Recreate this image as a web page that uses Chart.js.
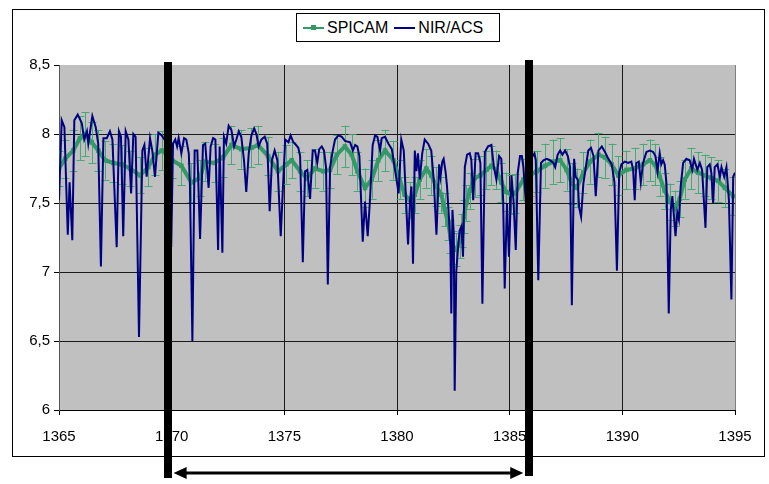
<!DOCTYPE html>
<html>
<head>
<meta charset="utf-8">
<script src="https://cdn.jsdelivr.net/npm/chart.js@4.4.1/dist/chart.umd.min.js"></script>
<style>
html,body{margin:0;padding:0;background:#fff;}
#wrap{position:relative;width:769px;height:484px;}
canvas{position:absolute;left:0;top:0;}
#legend{position:absolute;left:296px;top:13px;width:204px;height:29px;box-sizing:border-box;border:1px solid #000;background:#fff;
 font-family:"Liberation Sans",Arial,sans-serif;font-size:16px;color:#000;display:flex;align-items:center;padding-left:6px;}
.item{display:flex;align-items:center;margin-right:6px;}
.sample{position:relative;width:21px;height:10px;margin-right:3px;}
.sample .ln{position:absolute;left:0;right:0;top:4px;height:2px;}
.sample .mk{position:absolute;left:8px;top:2px;width:5px;height:5px;}
</style>
</head>
<body>
<div id="wrap">
<canvas id="c" width="769" height="484"></canvas>
<div id="legend"></div>
</div>
<script>
// ---- data ----
const seriesNames = ['SPICAM', 'NIR/ACS'];
const xTickValues = [1365, 1370, 1375, 1380, 1385, 1390, 1395];
const xTickLabels = ['1365', '1370', '1375', '1380', '1385', '1390', '1395'];
const yTickValues = [6, 6.5, 7, 7.5, 8, 8.5];
const yTickLabels = ['6', '6,5', '7', '7,5', '8', '8,5'];
const markerYears = [1369.82, 1385.87];

const nirYears = [
1365.00,1365.12,1365.24,1365.39,1365.47,1365.59,1365.68,1365.83,1366.01,1366.12,
1366.24,1366.30,1366.48,1366.63,1366.74,1366.86,1366.97,1367.12,1367.26,1367.37,
1367.56,1367.66,1367.75,1367.85,1367.96,1368.08,1368.20,1368.30,1368.40,1368.55,
1368.70,1368.79,1368.89,1369.04,1369.14,1369.26,1369.41,1369.56,1369.80,1369.98,
1370.06,1370.16,1370.24,1370.31,1370.43,1370.55,1370.65,1370.76,1370.81,1370.92,
1371.02,1371.14,1371.26,1371.39,1371.49,1371.64,1371.73,1371.84,1371.94,1372.06,
1372.13,1372.25,1372.32,1372.42,1372.53,1372.65,1372.77,1372.87,1372.98,1373.09,
1373.21,1373.31,1373.42,1373.54,1373.66,1373.76,1373.86,1373.98,1374.13,1374.24,
1374.35,1374.45,1374.57,1374.69,1374.84,1374.94,1375.04,1375.18,1375.28,1375.40,
1375.52,1375.62,1375.70,1375.82,1375.92,1376.02,1376.14,1376.26,1376.36,1376.46,
1376.55,1376.66,1376.76,1376.85,1376.93,1377.03,1377.15,1377.25,1377.40,1377.55,
1377.69,1377.92,1378.04,1378.14,1378.24,1378.33,1378.48,1378.58,1378.70,1378.80,
1378.92,1379.03,1379.13,1379.25,1379.32,1379.47,1379.62,1379.77,1379.95,1380.07,
1380.19,1380.30,1380.49,1380.58,1380.64,1380.71,1380.79,1380.86,1380.93,1381.01,
1381.12,1381.23,1381.38,1381.52,1381.63,1381.75,1381.87,1381.93,1382.01,1382.07,
1382.16,1382.22,1382.31,1382.37,1382.41,1382.46,1382.52,1382.56,1382.63,1382.71,
1382.78,1382.86,1382.93,1383.01,1383.11,1383.23,1383.30,1383.38,1383.49,1383.60,
1383.70,1383.79,1383.90,1384.04,1384.19,1384.30,1384.41,1384.53,1384.63,1384.71,
1384.78,1384.88,1384.97,1385.08,1385.17,1385.27,1385.36,1385.46,1385.54,1385.61,
1385.75,1385.90,1386.05,1386.10,1386.16,1386.27,1386.39,1386.50,1386.64,1386.79,
1386.94,1387.02,1387.13,1387.24,1387.34,1387.46,1387.58,1387.68,1387.76,1387.86,
1387.93,1388.02,1388.08,1388.17,1388.27,1388.38,1388.49,1388.61,1388.72,1388.82,
1388.94,1389.09,1389.23,1389.38,1389.53,1389.65,1389.76,1389.86,1389.96,1390.11,
1390.26,1390.40,1390.48,1390.55,1390.62,1390.73,1390.82,1390.92,1391.07,1391.22,
1391.37,1391.47,1391.56,1391.66,1391.73,1391.81,1391.88,1391.96,1392.06,1392.15,
1392.22,1392.36,1392.44,1392.51,1392.59,1392.70,1392.84,1392.99,1393.10,1393.18,
1393.33,1393.44,1393.54,1393.69,1393.77,1393.88,1393.95,1394.03,1394.10,1394.22,
1394.33,1394.40,1394.52,1394.62,1394.73,1394.84,1394.92,1395.00
];
const nirValues = [
7.52,8.10,8.05,7.27,7.65,7.23,8.10,8.14,8.08,7.96,
8.02,7.93,8.13,8.05,7.93,7.04,7.97,7.97,8.02,7.96,
7.18,8.02,7.98,7.26,8.02,7.96,7.57,8.00,7.98,6.53,
7.88,7.92,7.69,7.97,7.88,7.69,8.01,7.99,7.93,7.18,
7.93,7.96,7.91,7.97,7.86,7.97,7.96,7.86,7.64,6.50,
7.88,7.88,7.24,7.92,7.93,7.61,7.91,7.97,7.96,7.16,
7.91,7.14,7.98,7.93,8.06,8.03,7.91,7.96,8.02,7.98,
7.81,7.58,7.86,7.99,8.04,8.00,7.91,7.96,7.98,7.93,
7.44,7.81,7.88,7.81,7.26,7.62,7.96,7.94,7.99,7.94,
7.92,7.90,7.84,7.07,7.73,7.74,7.53,7.88,7.88,7.79,
7.89,7.91,7.88,7.76,6.91,7.76,7.88,7.96,7.99,7.98,
7.95,7.94,7.88,7.92,7.91,7.84,7.22,7.51,7.26,7.52,
7.92,7.99,7.98,7.88,7.97,7.98,7.93,7.89,7.70,7.57,
7.96,7.88,7.20,7.52,7.62,7.06,7.88,7.73,7.86,7.67,
7.86,7.96,7.93,7.88,7.67,7.27,7.78,7.69,7.80,7.82,
7.72,7.62,7.38,7.18,6.70,7.45,7.28,6.14,7.00,7.18,
7.30,7.33,7.11,7.76,7.85,7.86,7.81,7.52,7.86,7.86,
7.79,6.77,7.87,7.91,7.92,7.76,7.67,7.84,7.82,7.52,
6.88,7.50,7.11,7.70,7.52,7.16,7.72,7.84,7.84,7.76,
7.43,7.80,7.85,7.86,7.81,6.94,7.79,7.81,7.82,7.81,
7.79,7.76,7.85,7.88,7.85,7.88,7.84,7.76,6.76,7.82,
7.69,7.67,7.47,7.40,7.64,7.76,7.88,7.90,7.84,7.55,
7.88,7.91,7.87,7.82,7.78,7.65,7.01,7.72,7.78,7.80,
7.79,7.80,7.74,7.52,7.79,7.80,7.65,7.79,7.87,7.88,
7.87,7.84,7.73,7.86,7.78,7.81,7.78,7.64,6.70,7.45,
7.55,7.26,7.43,7.38,7.62,7.79,7.82,7.81,7.74,7.82,
7.74,7.79,7.74,7.32,7.76,7.78,7.72,7.50,7.76,7.78,
7.69,7.76,7.69,7.76,7.52,6.80,7.69,7.72
];

const spicamYears = [
1365.00,1365.27,1365.63,1365.93,1366.15,1366.45,1366.74,1367.04,1367.41,1367.78,
1368.15,1368.60,1368.96,1369.26,1369.56,1369.80,1370.02,1370.43,1370.87,1371.25,
1371.47,1371.91,1372.28,1372.65,1373.09,1373.54,1373.83,1374.28,1374.72,1375.09,
1375.33,1375.70,1375.99,1376.36,1376.73,1377.03,1377.33,1377.69,1377.99,1378.24,
1378.58,1378.88,1379.17,1379.47,1379.84,1380.12,1380.34,1380.57,1380.79,1381.01,
1381.30,1381.52,1381.75,1381.97,1382.12,1382.27,1382.37,1382.49,1382.63,1382.79,
1382.90,1382.96,1383.08,1383.23,1383.45,1383.70,1383.97,1384.19,1384.41,1384.63,
1384.85,1385.08,1385.24,1385.61,1385.90,1386.20,1386.57,1386.94,1387.24,1387.53,
1387.76,1387.98,1388.27,1388.57,1388.94,1389.23,1389.53,1389.82,1390.18,1390.55,
1390.92,1391.22,1391.44,1391.66,1391.88,1392.11,1392.33,1392.55,1392.77,1393.06,
1393.36,1393.66,1393.95,1394.25,1394.55,1394.92
];
const spicamValues = [
7.75,7.82,7.88,7.97,8.00,7.94,7.88,7.81,7.79,7.78,
7.75,7.70,7.76,7.85,7.88,7.85,7.81,7.77,7.65,7.68,
7.80,7.79,7.83,7.92,7.89,7.90,7.92,7.84,7.73,7.78,
7.81,7.73,7.68,7.75,7.73,7.74,7.85,7.91,7.85,7.73,
7.61,7.67,7.81,7.88,7.81,7.67,7.56,7.52,7.56,7.67,
7.75,7.70,7.62,7.56,7.45,7.35,7.26,7.18,7.16,7.22,
7.30,7.40,7.50,7.59,7.68,7.70,7.74,7.77,7.74,7.65,
7.58,7.56,7.57,7.67,7.70,7.73,7.77,7.80,7.81,7.74,
7.64,7.61,7.72,7.80,7.85,7.83,7.78,7.70,7.74,7.75,
7.78,7.81,7.78,7.69,7.59,7.51,7.46,7.53,7.67,7.75,
7.72,7.70,7.68,7.66,7.61,7.55
];
const spicamErrors = [
0.13,0.14,0.15,0.16,0.16,0.15,0.15,0.14,0.14,0.14,
0.13,0.13,0.14,0.15,0.14,0.14,0.13,0.14,0.14,0.13,
0.14,0.14,0.14,0.14,0.14,0.14,0.14,0.14,0.14,0.14,
0.13,0.14,0.13,0.14,0.14,0.13,0.14,0.15,0.15,0.14,
0.14,0.14,0.15,0.15,0.14,0.14,0.13,0.13,0.13,0.14,
0.14,0.14,0.14,0.13,0.12,0.12,0.12,0.12,0.12,0.12,
0.12,0.12,0.13,0.13,0.14,0.14,0.14,0.14,0.14,0.14,
0.14,0.14,0.14,0.15,0.15,0.15,0.16,0.16,0.16,0.15,
0.15,0.14,0.15,0.16,0.16,0.15,0.15,0.14,0.14,0.15,
0.15,0.15,0.15,0.14,0.13,0.13,0.13,0.13,0.14,0.15,
0.15,0.15,0.15,0.15,0.14,0.14
];

// ---- styles ----
const SPICAM_COLOR = '#339966';
const ERR_COLOR = 'rgba(60,165,110,0.9)';
const NIR_COLOR = '#000080';
const FONT = '"Liberation Sans", Arial, sans-serif';

const nirData = nirYears.map((x, i) => ({x: x, y: nirValues[i]}));
const spicamData = spicamYears.map((x, i) => ({x: x, y: spicamValues[i]}));

// legend (HTML)
const legendEl = document.getElementById('legend');
[[seriesNames[0], SPICAM_COLOR, true], [seriesNames[1], NIR_COLOR, false]].forEach(([name, col, mk]) => {
  const it = document.createElement('div'); it.className = 'item';
  const s = document.createElement('div'); s.className = 'sample';
  const l = document.createElement('div'); l.className = 'ln'; l.style.background = col; s.appendChild(l);
  if (mk) { const m = document.createElement('div'); m.className = 'mk'; m.style.background = col; s.appendChild(m); }
  const t = document.createElement('span'); t.textContent = name;
  it.appendChild(s); it.appendChild(t); legendEl.appendChild(it);
});

const decor = {
  id: 'decor',
  beforeDraw(chart) {
    const {ctx, chartArea: a} = chart;
    ctx.save();
    ctx.fillStyle = '#fff';
    ctx.fillRect(0, 0, chart.width, chart.height);
    ctx.strokeStyle = '#000';
    ctx.lineWidth = 1;
    ctx.strokeRect(12.5, 9.5, 752, 447);
    ctx.fillStyle = '#C0C0C0';
    ctx.fillRect(a.left, a.top, a.right - a.left, a.bottom - a.top);
    ctx.restore();
  },
  beforeDatasetsDraw(chart) {
    const {ctx, chartArea: a, scales} = chart;
    const xs = scales.x, ys = scales.y;
    ctx.save();
    ctx.beginPath(); ctx.rect(a.left, a.top, a.right - a.left, a.bottom - a.top); ctx.clip();
    ctx.strokeStyle = ERR_COLOR;
    ctx.lineWidth = 1;
    spicamYears.forEach((yr, i) => {
      const x = Math.round(xs.getPixelForValue(yr)) + 0.5;
      const y1 = ys.getPixelForValue(spicamValues[i] + spicamErrors[i]);
      const y2 = ys.getPixelForValue(spicamValues[i] - spicamErrors[i]);
      ctx.beginPath();
      ctx.moveTo(x, y1); ctx.lineTo(x, y2);
      ctx.moveTo(x - 4, Math.round(y1) + 0.5); ctx.lineTo(x + 4, Math.round(y1) + 0.5);
      ctx.moveTo(x - 4, Math.round(y2) + 0.5); ctx.lineTo(x + 4, Math.round(y2) + 0.5);
      ctx.stroke();
    });
    ctx.restore();
  },
  afterDraw(chart) {
    const {ctx, scales} = chart;
    const xs = scales.x;
    const px = markerYears.map(v => xs.getPixelForValue(v));
    const tops = [62, 60], bottoms = [478, 476];
    ctx.save();
    ctx.fillStyle = '#000';
    px.forEach((x, i) => ctx.fillRect(Math.round(x - 4), tops[i], 8, bottoms[i] - tops[i]));
    // double-headed arrow
    const y = 473, xa = px[0] + 6, xb = px[1] - 6, head = 13, hh = 6;
    ctx.fillRect(xa + head - 1, y - 1.5, (xb - head) - (xa + head) + 2, 3);
    ctx.beginPath();
    ctx.moveTo(xa, y); ctx.lineTo(xa + head, y - hh); ctx.lineTo(xa + head, y + hh); ctx.closePath(); ctx.fill();
    ctx.beginPath();
    ctx.moveTo(xb, y); ctx.lineTo(xb - head, y - hh); ctx.lineTo(xb - head, y + hh); ctx.closePath(); ctx.fill();
    ctx.restore();
  }
};

new Chart(document.getElementById('c'), {
  type: 'scatter',
  data: {
    datasets: [
      {
        label: seriesNames[0], data: spicamData, order: 1,
        showLine: true, borderColor: SPICAM_COLOR, backgroundColor: SPICAM_COLOR,
        borderWidth: 4, pointStyle: 'rect', pointRadius: 3.2, pointBorderWidth: 0, tension: 0
      },
      {
        label: seriesNames[1], data: nirData, order: 0,
        showLine: true, borderColor: NIR_COLOR, borderWidth: 2, pointRadius: 0, tension: 0
      }
    ]
  },
  options: {
    responsive: false, animation: false, devicePixelRatio: 1,
    layout: {padding: {left: 0, right: 34, top: 65, bottom: 34}},
    plugins: {legend: {display: false}, tooltip: {enabled: false}},
    scales: {
      x: {
        type: 'linear', min: 1365, max: 1395,
        afterBuildTicks: s => { s.ticks = xTickValues.map(v => ({value: v})); },
        afterFit: s => { s.height = 40; },
        ticks: {callback: (v, i) => xTickLabels[i], color: '#000', font: {family: FONT, size: 15}, padding: 13, maxRotation: 0, autoSkip: false},
        grid: {color: c => (c.tick && c.tick.value === 1395) ? '#808080' : '#1a1a1a', tickColor: '#000', lineWidth: 1, tickLength: 5},
        border: {color: '#000', width: 1}
      },
      y: {
        type: 'linear', min: 6, max: 8.5,
        afterBuildTicks: s => { s.ticks = yTickValues.map(v => ({value: v})); },
        afterFit: s => { s.width = 59; },
        ticks: {callback: (v, i) => yTickLabels[i], color: '#000', font: {family: FONT, size: 15}, padding: 4},
        grid: {color: c => (c.tick && c.tick.value === 8.5) ? 'rgba(0,0,0,0)' : '#1a1a1a', tickColor: '#000', lineWidth: 1, tickLength: 5},
        border: {color: '#555', width: 1}
      }
    }
  },
  plugins: [decor]
});
</script>
</body>
</html>
